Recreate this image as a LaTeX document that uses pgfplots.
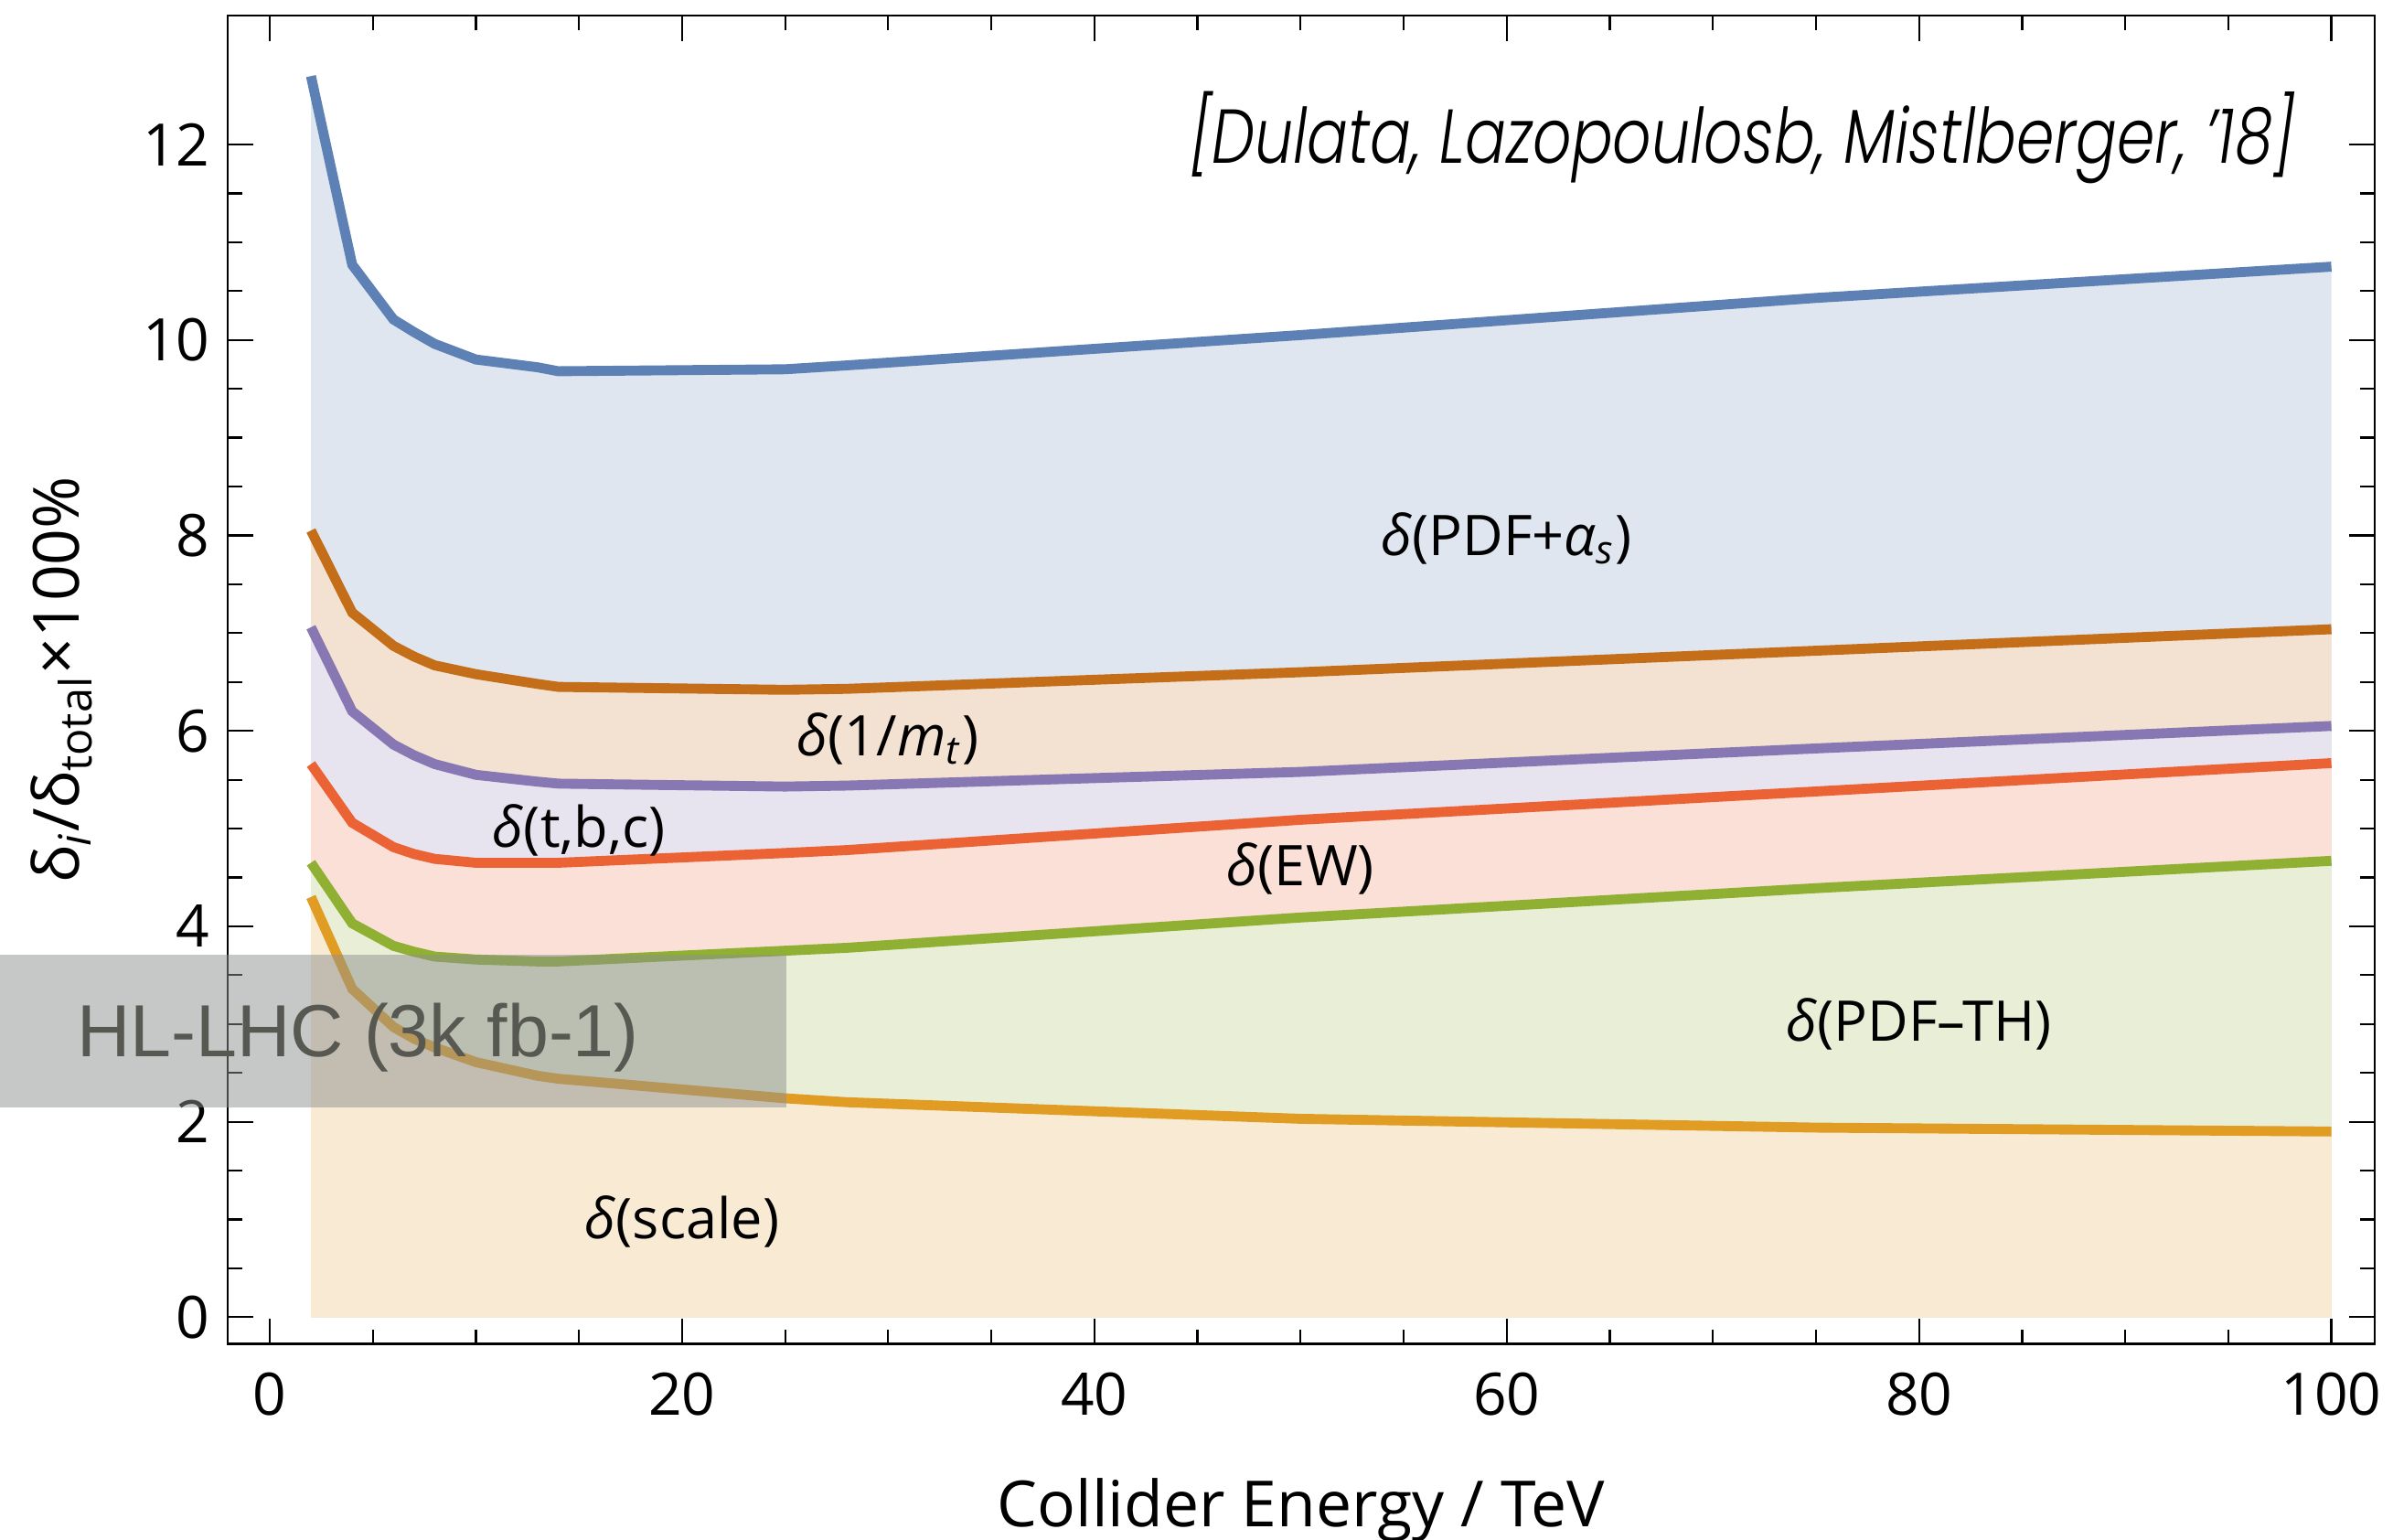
\documentclass[border=0pt]{standalone}
\usepackage{fontspec}
\setmainfont{Open Sans}
\newfontfamily\boxfont{Liberation Sans}
\IfFontExistsTF{Poppins Light Italic}{\newfontfamily\titlefont{Poppins Light Italic}}{\newfontfamily\titlefont{Poppins}[FakeSlant=0.2]}
\usepackage{graphicx}
\usepackage{pgfplots}
\usepackage{pgfplotstable}
\pgfplotsset{compat=1.18}

\definecolor{cblue}{HTML}{5E81B5}
\definecolor{corng}{HTML}{C56E1A}
\definecolor{cpurp}{HTML}{8778B3}
\definecolor{cred}{HTML}{EB6235}
\definecolor{cgreen}{HTML}{8FB032}
\definecolor{cyell}{HTML}{E19C24}
\definecolor{boxtext}{RGB}{88,88,83}
\definecolor{boxfill}{RGB}{140,145,143}

\pgfplotstableread{
x    blue  orng  purp  red   green yell
2    12.70 8.05  7.06  5.66  4.65  4.30
4    10.77 7.21  6.20  5.06  4.03  3.36
6    10.21 6.87  5.86  4.81  3.80  2.97
7    10.08 6.76  5.75  4.74  3.74  2.85
8    9.96  6.67  5.66  4.69  3.69  2.76
10   9.80  6.58  5.55  4.65  3.66  2.61
13   9.72  6.48  5.48  4.65  3.64  2.47
14   9.68  6.45  5.46  4.65  3.64  2.44
25   9.70  6.42  5.43  4.75  3.75  2.24
28   9.74  6.43  5.44  4.78  3.78  2.20
50   10.05 6.60  5.58  5.09  4.09  2.03
75   10.43 6.82  5.82  5.38  4.39  1.94
100  10.75 7.04  6.05  5.67  4.67  1.90
}\data

\begin{document}
\begin{tikzpicture}
\begin{axis}[
  name=ax,
  scale only axis,
  width=421.5pt, height=260.8pt,
  xmin=-2.04, xmax=102.1,
  ymin=-0.275, ymax=13.32,
  xtick={0,20,...,100},
  ytick={0,2,...,12},
  minor x tick num=3,
  minor y tick num=3,
  major tick length=5pt,
  minor tick length=2.9pt,
  tick align=inside,
  axis line style={line width=0.5pt, black},
  every tick/.style={black, line width=0.4pt},
  /pgf/number format/assume math mode=true,
  tick label style={font=\fontsize{11.5}{13}\selectfont},
  xticklabel style={yshift=-2pt},
  clip=false,
]
% fills
\addplot[draw=none, fill=cblue!20!white]  table[x=x,y=blue] {\data} \closedcycle;
\addplot[draw=none, fill=corng!20!white]  table[x=x,y=orng] {\data} \closedcycle;
\addplot[draw=none, fill=cpurp!20!white]  table[x=x,y=purp] {\data} \closedcycle;
\addplot[draw=none, fill=cred!20!white]   table[x=x,y=red]  {\data} \closedcycle;
\addplot[draw=none, fill=cgreen!20!white] table[x=x,y=green]{\data} \closedcycle;
\addplot[draw=none, fill=cyell!20!white]  table[x=x,y=yell] {\data} \closedcycle;
% lines
\addplot[cblue,  line width=1.95pt] table[x=x,y=blue] {\data};
\addplot[corng,  line width=1.95pt] table[x=x,y=orng] {\data};
\addplot[cpurp,  line width=1.95pt] table[x=x,y=purp] {\data};
\addplot[cred,   line width=1.95pt] table[x=x,y=red]  {\data};
\addplot[cgreen, line width=1.95pt] table[x=x,y=green]{\data};
\addplot[cyell,  line width=1.95pt] table[x=x,y=yell] {\data};
% band labels
\node[font=\fontsize{11}{13}\selectfont] at (axis cs:60,7.97) {\textit{δ}(PDF+\textit{α}\textsubscript{\textit{s}})};
\node[font=\fontsize{11}{13}\selectfont] at (axis cs:30,5.92) {\textit{δ}(1/\textit{m}\textsubscript{\textit{t}})};
\node[font=\fontsize{11}{13}\selectfont] at (axis cs:15,4.98) {\textit{δ}(t,b,c)};
\node[font=\fontsize{11}{13}\selectfont] at (axis cs:50,4.59) {\textit{δ}(EW)};
\node[font=\fontsize{11}{13}\selectfont] at (axis cs:80,3.00) {\textit{δ}(PDF–TH)};
\node[font=\fontsize{11}{13}\selectfont] at (axis cs:20,0.98) {\textit{δ}(scale)};
% title
\node[anchor=east, inner sep=0pt] at (axis cs:98.3,12.07)
  {\resizebox{217pt}{\height}{\titlefont\fontsize{15}{17}\selectfont [Dulata, Lazopoulosb, Mistlberger, ’18]}};
% HL-LHC box
\fill[boxfill, opacity=0.5] (axis cs:-13.1,2.15) rectangle (axis cs:25.08,3.71);
\node[anchor=base, text=boxtext, font=\boxfont\fontsize{14.5}{16}\selectfont, inner sep=0pt]
  at (axis cs:4.28,2.665) {HL-LHC (3k fb-1)};
\end{axis}
\node[anchor=base, font=\fontsize{12.5}{14}\selectfont] at ([yshift=-35.9pt]ax.south) {Collider Energy / TeV};
\node[anchor=base, rotate=90, font=\fontsize{12.5}{14}\selectfont] at ([xshift=-29.1pt]ax.west)
  {δ\textsubscript{\textit{i}}/δ\textsubscript{total}×100\%};
\pgfresetboundingbox
\path ([xshift=-44.7pt,yshift=-38.4pt]ax.south west) rectangle ([xshift=3.6pt,yshift=3.05pt]ax.north east);
\end{tikzpicture}
\end{document}
